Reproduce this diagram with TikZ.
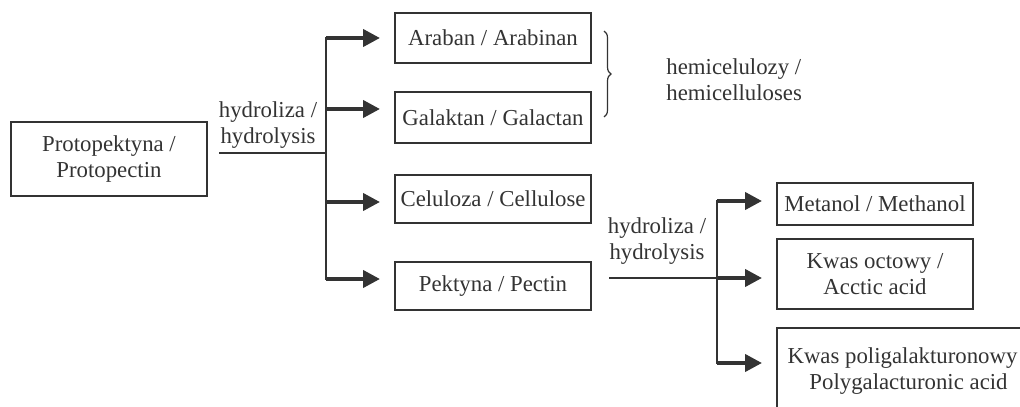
\documentclass[tikz,border=0pt]{standalone}
\usepackage{fontspec}
\setmainfont{Liberation Serif}
\usetikzlibrary{arrows.meta,decorations.pathreplacing}
\definecolor{ink}{HTML}{333333}
\begin{document}
\begin{tikzpicture}[x=0.5pt,y=-0.5pt,
  txt/.style={text=ink,inner sep=0pt,font=\fontsize{11.4}{12.8}\selectfont},
  box/.style={txt,draw=ink,line width=1pt,align=center,minimum width=98pt},
  lbl/.style={txt,align=left},
  trunk/.style={draw=ink,line width=1.4pt},
  feed/.style={draw=ink,line width=1.1pt},
  arr/.style={draw=ink,line width=2pt,-{Triangle[length=8.5pt,width=8.5pt]},shorten >=7pt}
]
\useasboundingbox (0,0) rectangle (1020,406);
\clip (0,0) rectangle (1020,406);

% boxes
\node[box,minimum height=37pt] (proto) at (109,159) {Protopektyna /\\Protopectin};
\node[box,minimum height=25pt] (araban) at (493,38) {Araban / Arabinan};
\node[box,minimum height=25.5pt] (galaktan) at (493,117.5) {Galaktan / Galactan};
\node[box,minimum height=24pt] (celuloza) at (493,199) {Celuloza / Cellulose};
\node[box,minimum height=24pt] (pektyna) at (493,286) {Pektyna / Pectin};
\node[box,minimum height=21pt] (metanol) at (875,204) {Metanol / Methanol};
\node[box,minimum height=35pt] (octowy) at (875,274) {Kwas octowy /\\Acctic acid};
\node[box,minimum width=131.5pt,minimum height=43pt] (poly) at (908.5,371) {Kwas poligalakturonowy /\\Polygalacturonic acid};

% labels
\node[lbl,align=center] (hyd1) at (268,125) {hydroliza /\\hydrolysis};
\node[lbl,align=center] (hyd2) at (657,241) {hydroliza /\\hydrolysis};
\node[lbl,anchor=west] (hemi) at (666,80) {hemicelulozy /\\hemicelluloses};

% first hydrolysis
\coordinate (h1) at (219,153);
\coordinate (t1) at (326,153);
\coordinate (pa) at (araban.west);
\coordinate (pg) at ([yshift=4.25pt]galaktan.west);
\coordinate (pc) at ([yshift=-1.5pt]celuloza.west);
\coordinate (pp) at ([yshift=3.5pt]pektyna.west);
\draw[feed] (h1) -- (t1);
\draw[trunk,line cap=rect] (t1 |- pa) -- (t1 |- pp);
\draw[arr] (t1 |- pa) -- (pa);
\draw[arr] (t1 |- pg) -- (pg);
\draw[arr] (t1 |- pc) -- (pc);
\draw[arr] (t1 |- pp) -- (pp);

% second hydrolysis
\coordinate (h2) at (609,278);
\coordinate (t2) at (717,278);
\coordinate (qm) at ([yshift=1.5pt]metanol.west);
\coordinate (qo) at ([yshift=-2pt]octowy.west);
\coordinate (qp) at ([yshift=4pt]poly.west);
\draw[feed] (h2) -- (t2);
\draw[trunk,line cap=rect] (t2 |- qm) -- (t2 |- qp);
\draw[arr] (t2 |- qm) -- (qm);
\draw[arr] (t2 |- qo) -- (qo);
\draw[arr] (t2 |- qp) -- (qp);

% brace
\draw[draw=ink,line width=0.6pt,decorate,decoration={brace,amplitude=3.5pt}] (604,31) -- (604,117);
\end{tikzpicture}
\end{document}
